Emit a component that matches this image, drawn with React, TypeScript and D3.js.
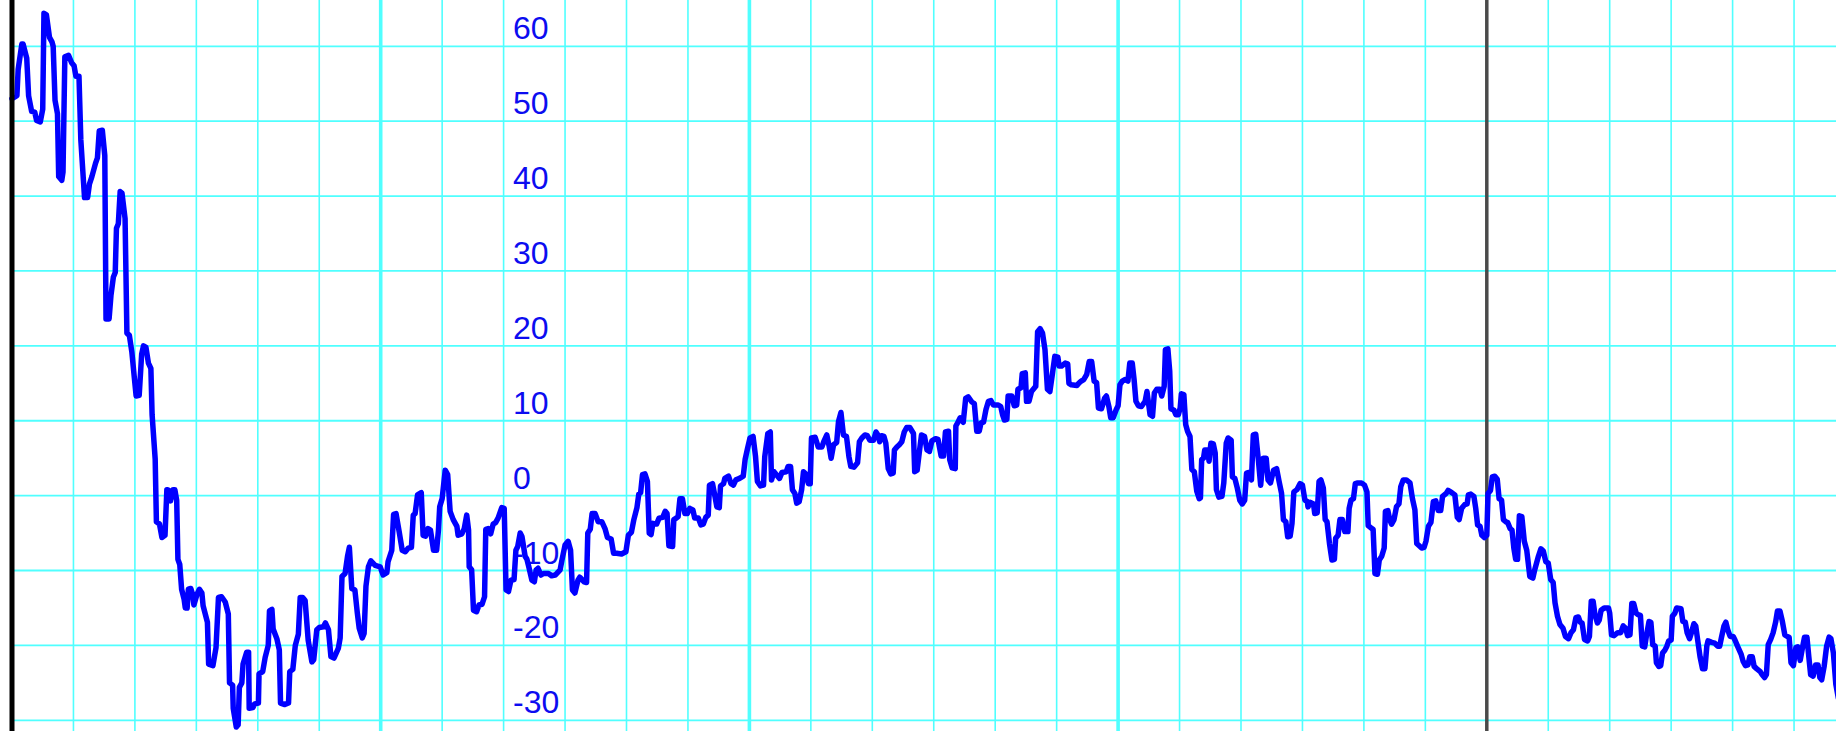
import React from 'react';
import * as d3 from 'd3';

const WIDTH = 1836;
const HEIGHT = 731;

// value axis ticks (labels drawn inside the plot)
const valueTicks = [-30, -20, -10, 0, 10, 20, 30, 40, 50, 60];
// time grid: minor every 10 units, major every 60, cursor at 240
const timeGridStep = 10;
const timeGridMajorEvery = 60;
const cursorTime = 240;

// [time, value] vertices of the trace
const tracePoints: [number, number][] = [
  [0, 53.0], [0.2, 53.1], [0.8, 53.4], [1.0, 56.9], [1.6, 60.3], [1.8, 60.3], [2.4, 58.4], [2.7, 53.4], [3.2, 51.3], [3.7, 51.2],
  [4.0, 50.1], [4.6, 49.9], [5.0, 51.6], [5.2, 64.4], [5.6, 64.2], [6.1, 61.2], [6.5, 60.6], [6.7, 60.0], [7.0, 52.8], [7.4, 51.0],
  [7.6, 42.6], [8.1, 42.1], [8.3, 43.2], [8.6, 58.6], [9.2, 58.8], [9.7, 57.8], [10.1, 57.4], [10.4, 56.0], [10.9, 56.0], [11.2, 47.5],
  [11.8, 39.8], [12.3, 39.8], [12.6, 41.6], [13.0, 42.6], [13.6, 44.4], [13.9, 45.1], [14.2, 48.7], [14.7, 48.8], [15.1, 45.4], [15.3, 23.6],
  [15.8, 23.6], [16.1, 26.7], [16.5, 29.2], [16.8, 29.8], [17.0, 35.7], [17.3, 36.3], [17.6, 40.6], [17.9, 40.4], [18.4, 37.0], [18.7, 21.7],
  [19.1, 21.4], [19.5, 19.2], [19.9, 15.8], [20.2, 13.3], [20.7, 13.4], [21.1, 18.9], [21.4, 20.0], [21.8, 19.8], [22.2, 17.7], [22.6, 17.0],
  [22.8, 10.8], [23.3, 4.9], [23.5, -3.5], [24.0, -3.8], [24.4, -5.6], [24.9, -5.3], [25.2, 0.8], [25.5, 0.7], [25.8, -0.7], [26.2, 0.8],
  [26.5, 0.8], [26.8, -0.6], [27.0, -8.5], [27.3, -9.2], [27.6, -12.5], [28.0, -13.8], [28.2, -15.0], [28.5, -15.0], [28.7, -12.5], [29.1, -12.4],
  [29.4, -13.2], [29.6, -14.6], [30.1, -13.2], [30.5, -12.5], [30.9, -13.0], [31.1, -14.7], [31.8, -16.9], [32.0, -22.5], [32.7, -22.7], [33.2, -20.3],
  [33.6, -13.6], [34.1, -13.5], [34.7, -14.2], [35.2, -15.8], [35.4, -25.0], [35.9, -25.3], [36.0, -28.4], [36.5, -30.9], [36.8, -30.6], [37.0, -25.6],
  [37.4, -25.0], [37.6, -22.5], [38.2, -20.9], [38.5, -20.9], [38.6, -28.4], [39.2, -28.3], [39.5, -27.8], [40.1, -27.7], [40.2, -23.8], [40.8, -23.5],
  [41.2, -21.6], [41.7, -20.0], [41.9, -15.4], [42.3, -15.2], [42.5, -17.8], [43.1, -19.1], [43.5, -20.6], [43.7, -27.7], [44.4, -27.9], [45.0, -27.7],
  [45.2, -23.5], [45.7, -23.2], [46.1, -20.0], [46.6, -18.5], [46.9, -13.6], [47.3, -13.6], [47.7, -14.0], [48.2, -19.3], [48.8, -22.2], [49.1, -21.9],
  [49.6, -17.9], [50.0, -17.6], [50.7, -17.5], [51.0, -17.0], [51.5, -17.9], [51.9, -21.5], [52.4, -21.7], [53.1, -20.4], [53.4, -19.0], [53.7, -10.8],
  [54.2, -10.4], [54.6, -8.1], [54.9, -6.9], [55.3, -12.4], [55.8, -12.6], [56.2, -15.7], [56.5, -17.7], [57.0, -19.0], [57.3, -18.4], [57.6, -12.1],
  [58.0, -9.5], [58.4, -8.7], [59.1, -9.3], [59.9, -9.5], [60.4, -10.6], [61.0, -10.3], [61.2, -8.8], [61.8, -7.3], [62.1, -2.5], [62.5, -2.4],
  [63.0, -4.8], [63.5, -7.3], [64.0, -7.5], [64.5, -7.0], [65.0, -6.9], [65.3, -2.6], [65.6, -2.4], [66.0, 0.1], [66.6, 0.4], [66.9, -5.3],
  [67.3, -5.4], [67.7, -4.4], [68.1, -4.6], [68.6, -7.3], [69.1, -7.3], [69.4, -4.6], [69.6, -1.5], [70.0, -0.4], [70.5, 3.4], [70.9, 2.8],
  [71.3, -2.1], [71.8, -3.2], [72.4, -4.1], [72.6, -5.3], [73.2, -5.1], [73.6, -4.4], [74.0, -2.6], [74.3, -4.6], [74.4, -9.5], [74.8, -9.9],
  [75.1, -15.3], [75.6, -15.5], [76.0, -14.6], [76.5, -14.5], [76.9, -13.5], [77.1, -4.5], [77.5, -4.4], [77.9, -5.1], [78.3, -3.8], [78.7, -3.6],
  [79.1, -3.0], [79.7, -1.6], [80.1, -1.7], [80.4, -12.6], [80.8, -12.8], [81.2, -11.3], [81.7, -11.2], [82.0, -7.3], [82.3, -6.8], [82.7, -5.0],
  [83.0, -5.5], [83.5, -8.1], [83.8, -8.5], [84.1, -9.5], [84.6, -11.3], [85.0, -11.5], [85.3, -9.9], [85.6, -9.7], [86.1, -10.6], [86.5, -10.4],
  [87.3, -10.4], [87.8, -10.7], [88.4, -10.6], [89.2, -9.9], [89.5, -8.6], [90.0, -6.6], [90.5, -6.1], [90.9, -7.3], [91.2, -12.6], [91.6, -13.0],
  [92.1, -11.3], [92.4, -10.9], [93.1, -11.5], [93.5, -11.6], [93.7, -5.0], [94.1, -4.5], [94.4, -2.4], [94.9, -2.4], [95.4, -3.5], [96.0, -3.5],
  [96.5, -4.4], [96.9, -5.6], [97.5, -5.8], [97.9, -7.7], [98.4, -7.7], [99.2, -7.8], [99.9, -7.5], [100.3, -5.3], [100.8, -4.9], [101.2, -3.2],
  [101.7, -1.6], [102.0, 0.2], [102.3, 0.4], [102.6, 2.8], [103.0, 2.9], [103.4, 1.9], [103.7, -5.0], [104.0, -5.2], [104.3, -3.7], [104.9, -3.8],
  [105.3, -3.0], [105.9, -2.9], [106.3, -2.1], [106.6, -2.4], [106.9, -6.7], [107.5, -6.8], [107.7, -3.2], [108.1, -3.0], [108.4, -2.8], [108.7, -0.4],
  [109.1, -0.4], [109.5, -2.4], [109.9, -2.4], [110.3, -1.7], [110.8, -1.9], [111.1, -3.0], [111.7, -3.0], [112.1, -3.9], [112.5, -3.8], [112.9, -2.9],
  [113.3, -2.6], [113.5, 1.4], [114.0, 1.6], [114.4, -0.1], [114.7, -1.5], [115.1, -1.6], [115.3, 1.3], [115.8, 1.6], [116.0, 2.3], [116.6, 2.6],
  [117.0, 1.6], [117.4, 1.4], [117.8, 2.1], [118.4, 2.3], [119.0, 2.6], [119.3, 4.8], [119.7, 6.3], [120.1, 7.7], [120.6, 7.9], [121.0, 5.2],
  [121.3, 1.9], [121.8, 1.3], [122.3, 1.4], [122.5, 5.2], [123.0, 8.3], [123.4, 8.5], [123.6, 2.1], [124.0, 3.2], [124.4, 2.8], [124.9, 2.3],
  [125.3, 3.1], [126.0, 3.2], [126.3, 3.9], [126.7, 3.9], [127.0, 0.8], [127.4, 0.3], [127.7, -1.0], [128.1, -0.8], [128.5, 0.8], [128.8, 3.2],
  [129.2, 2.9], [129.6, 1.6], [129.9, 1.6], [130.1, 7.7], [130.7, 7.8], [131.2, 6.5], [131.8, 6.5], [132.1, 7.2], [132.6, 8.1], [133.0, 6.5],
  [133.3, 5.0], [133.7, 6.8], [134.2, 7.1], [134.5, 9.9], [134.9, 11.1], [135.3, 8.1], [135.8, 7.9], [136.2, 5.2], [136.5, 3.9], [137.0, 3.8],
  [137.6, 4.4], [137.9, 7.2], [138.3, 7.7], [138.8, 8.1], [139.2, 8.0], [139.6, 7.4], [140.2, 7.4], [140.6, 8.5], [141.0, 8.0], [141.2, 7.2],
  [141.5, 8.0], [141.9, 7.9], [142.2, 7.0], [142.6, 3.6], [143.0, 2.9], [143.4, 3.0], [143.6, 6.1], [144.0, 6.5], [144.4, 6.8], [144.8, 7.2],
  [145.2, 8.5], [145.6, 9.1], [146.1, 9.1], [146.7, 8.3], [146.9, 3.2], [147.3, 3.4], [147.8, 6.8], [148.0, 8.1], [148.5, 7.9], [148.9, 6.1],
  [149.3, 5.9], [149.7, 7.3], [150.3, 7.6], [150.7, 7.5], [151.2, 5.3], [151.6, 5.3], [151.9, 8.5], [152.4, 8.6], [152.6, 4.8], [153.0, 3.7],
  [153.5, 3.6], [153.6, 9.3], [154.0, 9.9], [154.3, 10.4], [154.8, 9.8], [155.2, 13.0], [155.6, 13.2], [156.2, 12.5], [156.6, 12.3], [157.0, 8.6],
  [157.4, 8.6], [157.7, 9.7], [158.1, 9.8], [158.5, 11.5], [158.9, 12.6], [159.3, 12.7], [159.7, 12.1], [160.5, 12.1], [160.9, 11.9], [161.2, 10.8],
  [161.5, 10.1], [161.9, 10.2], [162.1, 13.3], [162.7, 13.3], [163.1, 12.0], [163.5, 12.1], [163.7, 14.2], [164.2, 14.4], [164.4, 16.3], [164.9, 16.4],
  [165.1, 12.6], [165.5, 12.6], [165.9, 13.9], [166.6, 14.6], [166.9, 21.9], [167.3, 22.3], [167.7, 21.7], [168.1, 19.5], [168.5, 14.2], [168.9, 13.9],
  [169.3, 16.2], [169.7, 18.6], [170.2, 18.5], [170.4, 17.3], [170.8, 17.3], [171.4, 17.7], [171.8, 17.6], [172.0, 15.0], [172.4, 14.8], [173.3, 14.7],
  [173.6, 15.0], [174.0, 15.3], [174.4, 15.5], [174.9, 16.2], [175.3, 17.9], [175.7, 17.9], [176.1, 15.3], [176.5, 15.1], [176.8, 11.7], [177.3, 11.6],
  [177.8, 13.0], [178.1, 13.3], [178.5, 11.9], [178.8, 10.4], [179.2, 10.4], [179.7, 11.5], [180.0, 12.0], [180.3, 14.8], [180.7, 15.3], [181.1, 15.5],
  [181.6, 15.3], [181.9, 17.7], [182.3, 17.7], [182.6, 15.5], [182.9, 12.6], [183.3, 12.0], [183.8, 11.9], [184.4, 12.6], [184.7, 13.9], [185.2, 10.8],
  [185.6, 10.6], [185.9, 13.7], [186.3, 14.2], [186.8, 14.2], [187.1, 13.3], [187.5, 14.6], [187.7, 19.5], [188.1, 19.6], [188.4, 16.6], [188.6, 11.6],
  [189.1, 11.4], [189.4, 10.8], [189.8, 10.8], [190.1, 11.7], [190.3, 13.6], [190.7, 13.5], [191.0, 9.5], [191.3, 8.6], [191.7, 7.9], [192.0, 3.5],
  [192.4, 3.2], [192.8, 0.6], [193.2, -0.4], [193.4, -0.3], [193.6, 4.8], [193.9, 5.0], [194.1, 6.1], [194.6, 6.1], [194.8, 4.6], [195.1, 7.0],
  [195.5, 6.9], [195.8, 5.7], [196.0, 0.8], [196.4, -0.2], [196.9, -0.1], [197.2, 1.7], [197.6, 7.0], [197.9, 7.7], [198.4, 7.4], [198.6, 2.5],
  [199.0, 2.3], [199.4, 1.0], [199.8, -0.6], [200.2, -1.1], [200.6, -0.6], [200.9, 3.0], [201.3, 3.1], [201.7, 2.1], [202.0, 8.1], [202.4, 8.2],
  [202.8, 5.0], [203.2, 1.4], [203.6, 5.0], [204.1, 5.0], [204.4, 2.1], [204.8, 1.7], [205.3, 3.4], [205.8, 3.6], [206.2, 1.9], [206.6, 0.3],
  [206.9, -3.2], [207.3, -3.5], [207.6, -5.5], [208.0, -5.4], [208.3, -3.7], [208.6, 0.5], [209.1, 0.8], [209.6, 1.6], [210.0, 1.4], [210.4, -0.6],
  [210.8, -0.8], [210.9, -1.5], [211.3, -0.9], [211.8, -1.1], [212.0, -2.4], [212.4, -2.3], [212.7, 1.9], [213.0, 2.1], [213.4, 1.0], [213.7, -3.2],
  [214.0, -3.5], [214.4, -6.4], [214.8, -8.6], [215.2, -8.5], [215.4, -5.7], [215.8, -5.3], [216.1, -3.2], [216.5, -3.2], [216.9, -4.8], [217.4, -4.8],
  [217.6, -1.7], [217.9, -0.6], [218.3, -0.4], [218.6, 1.6], [219.0, 1.7], [219.6, 1.7], [220.1, 1.4], [220.5, 0.5], [220.7, -4.0], [221.3, -4.4],
  [221.5, -4.5], [221.8, -10.4], [222.2, -10.5], [222.5, -8.6], [222.9, -8.1], [223.3, -7.0], [223.5, -2.1], [223.9, -2.0], [224.2, -3.2], [224.5, -3.8],
  [224.9, -3.2], [225.3, -1.5], [225.7, -1.1], [226.0, 1.2], [226.4, 2.1], [226.9, 2.1], [227.5, 1.7], [227.9, -0.4], [228.3, -1.9], [228.6, -6.4],
  [229.0, -6.7], [229.4, -7.0], [229.8, -6.9], [230.1, -6.1], [230.5, -4.1], [230.9, -3.6], [231.3, -0.8], [231.7, -0.7], [232.1, -2.0], [232.5, -2.0],
  [232.8, -0.1], [233.4, 0.3], [233.7, 0.7], [234.3, 0.4], [234.8, 0.1], [235.2, -2.9], [235.5, -3.2], [235.9, -1.7], [236.4, -1.2], [236.8, -1.1],
  [237.0, 0.1], [237.4, 0.2], [237.9, -0.1], [238.2, -1.7], [238.5, -3.9], [238.9, -4.1], [239.2, -5.3], [239.6, -5.6], [240.0, -5.3], [240.2, 0.3],
  [240.6, 0.7], [240.9, 2.5], [241.3, 2.6], [241.7, 2.2], [242.0, -0.4], [242.4, -0.6], [242.7, -3.2], [243.1, -3.5], [243.4, -3.6], [243.8, -4.4],
  [244.1, -4.6], [244.4, -7.0], [244.7, -8.5], [245.0, -8.5], [245.3, -2.7], [245.7, -2.8], [246.1, -6.1], [246.5, -7.3], [247.0, -10.8], [247.5, -11.0],
  [247.8, -9.9], [248.4, -8.1], [248.8, -7.1], [249.2, -7.4], [249.6, -8.8], [250.0, -9.0], [250.4, -11.2], [250.8, -11.6], [251.1, -14.3], [251.5, -16.1],
  [251.9, -17.2], [252.4, -17.7], [252.8, -18.8], [253.3, -19.1], [253.7, -18.3], [254.1, -17.9], [254.5, -16.3], [254.9, -16.2], [255.2, -16.9], [255.5, -17.0],
  [255.9, -19.2], [256.4, -19.4], [256.7, -18.8], [257.0, -14.1], [257.3, -14.1], [257.6, -15.9], [258.0, -17.0], [258.3, -16.6], [258.6, -15.3], [259.1, -15.0],
  [259.8, -15.0], [260.0, -15.7], [260.3, -18.6], [260.7, -18.7], [261.3, -18.3], [261.8, -18.3], [262.2, -17.4], [262.6, -17.7], [262.9, -18.7], [263.3, -18.6],
  [263.6, -14.4], [263.9, -14.4], [264.3, -15.7], [264.6, -15.9], [265.0, -16.0], [265.3, -20.1], [265.7, -20.2], [266.0, -18.6], [266.4, -16.8], [266.7, -16.9],
  [267.0, -19.9], [267.4, -20.1], [267.6, -22.3], [268.0, -22.8], [268.3, -22.7], [268.6, -21.0], [269.0, -20.6], [269.3, -20.1], [269.6, -19.4], [270.0, -19.3],
  [270.2, -16.1], [270.6, -15.7], [270.9, -15.0], [271.6, -15.1], [271.9, -16.8], [272.3, -16.9], [272.6, -18.3], [273.0, -19.1], [273.3, -18.3], [273.7, -17.1],
  [274.0, -17.4], [274.3, -19.2], [274.7, -21.5], [275.1, -23.1], [275.5, -23.1], [275.8, -20.1], [276.0, -19.4], [276.6, -19.6], [277.1, -19.7], [277.6, -20.1],
  [277.9, -20.1], [278.2, -18.9], [278.6, -17.4], [278.9, -16.9], [279.2, -17.9], [279.6, -18.8], [280.1, -18.8], [280.4, -19.3], [280.8, -20.1], [281.4, -21.2],
  [281.7, -22.1], [282.1, -22.7], [282.5, -22.6], [282.8, -21.5], [283.2, -21.5], [283.5, -22.8], [283.9, -23.1], [284.5, -23.5], [284.8, -23.9], [285.2, -24.3],
  [285.5, -23.9], [285.8, -19.9], [286.2, -19.2], [286.6, -18.3], [287.0, -16.9], [287.3, -15.4], [287.7, -15.4], [288.1, -16.8], [288.5, -18.6], [288.9, -18.8],
  [289.2, -18.9], [289.5, -22.3], [289.9, -22.7], [290.3, -20.3], [290.6, -20.2], [291.0, -22.0], [291.3, -20.6], [291.7, -18.9], [292.1, -18.9], [292.4, -21.5],
  [292.7, -23.9], [293.1, -24.1], [293.5, -22.6], [293.9, -22.6], [294.2, -24.3], [294.5, -24.6], [294.9, -22.8], [295.3, -20.1], [295.7, -18.9], [296.0, -19.1],
  [296.4, -21.0], [296.8, -25.2], [297.2, -27.0],
];

const GRID_COLOR = '#50ffff';
const TRACE_COLOR = '#0000ff';
const LABEL_COLOR = '#0c0cf0';

export default function App() {
  const x = d3.scaleLinear().domain([0, 240]).range([12, 1486.8]);
  const y = d3.scaleLinear().domain([-30, 60]).range([720.3, 46.3]);

  const tMax = x.invert(WIDTH);
  const gridTimes = d3.range(timeGridStep, tMax, timeGridStep);
  const gridValues = d3.range(-30, 70, 10);

  const line = d3
    .line<[number, number]>()
    .x((d) => x(d[0]))
    .y((d) => y(d[1]));

  const x0 = x(0);

  return (
    <div style={{ position: 'absolute', left: 0, top: 0 }}>
      <svg width={WIDTH} height={HEIGHT} style={{ display: 'block', background: '#ffffff' }}>
        <rect x={0} y={0} width={WIDTH} height={HEIGHT} fill="#ffffff" />
        {gridValues.map((v) => (
          <line key={'h' + v} x1={x0} x2={WIDTH} y1={y(v)} y2={y(v)} stroke={GRID_COLOR} strokeWidth={1.8} />
        ))}
        {gridTimes.map((t) => {
          const idx = Math.round(t / timeGridStep);
          const isCursor = Math.abs(t - cursorTime) < 1e-6;
          const isMajor = idx % (timeGridMajorEvery / timeGridStep) === 0;
          if (isCursor) return null;
          return (
            <line
              key={'v' + t}
              x1={x(t)}
              x2={x(t)}
              y1={0}
              y2={HEIGHT}
              stroke={GRID_COLOR}
              strokeWidth={isMajor ? 3.6 : 1.6}
            />
          );
        })}
        <line x1={x(cursorTime)} x2={x(cursorTime)} y1={0} y2={HEIGHT} stroke="#4a4a4a" strokeWidth={3.5} />
        {valueTicks.map((v) => (
          <text
            key={'l' + v}
            x={513}
            y={y(v) - 7}
            fill={LABEL_COLOR}
            fontSize={32}
            fontFamily="'Liberation Sans', Arial, Helvetica, sans-serif"
          >
            {v}
          </text>
        ))}
        <path
          d={line(tracePoints) || ''}
          fill="none"
          stroke={TRACE_COLOR}
          strokeWidth={5.5}
          strokeLinejoin="round"
          strokeLinecap="round"
        />
        <line x1={x0} x2={x0} y1={0} y2={HEIGHT} stroke="#000000" strokeWidth={5} />
      </svg>
    </div>
  );
}
